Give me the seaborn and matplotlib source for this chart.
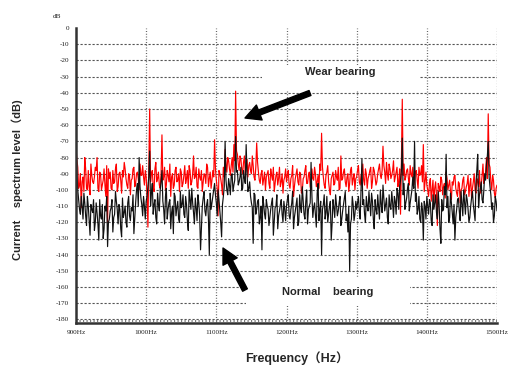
import numpy as np
import pandas as pd
import matplotlib
matplotlib.use("Agg")
import matplotlib.pyplot as plt
import matplotlib.patches as mpatches
import seaborn as sns

# Frequency bins (Hz): even bins on a 2.5 Hz grid, odd bins offset by 1.25 Hz
freq_even = np.arange(900, 1500.01, 2.5)
freq_odd = np.arange(901.25, 1500, 2.5)

# Spectrum level of the worn bearing (dB), even bins, one list per 100 Hz band
wear_900 = [-74, -86, -97, -111, -92, -80, -99, -88, -103, -91, -96, -86, -80, -101, -90, -97, -87, -104, -120, -93,
            -99, -88, -95, -84, -98, -89, -102, -92, -87, -97, -90, -103, -93, -86, -96, -89, -100, -91, -85, -97]
wear_1000 = [-92, -123, -50, -90, -98, -87, -95, -89, -99, -66, -92, -100, -88, -95, -104, -90, -97, -86, -94, -101,
             -89, -96, -85, -93, -99, -88, -95, -79, -92, -98, -87, -94, -101, -90, -96, -86, -93, -99, -88, -69]
wear_1100 = [-94, -116, -90, -97, -86, -75, -89, -82, -91, -80, -72, -39, -78, -88, -81, -90, -79, -86, -92, -83,
             -90, -85, -94, -71, -89, -96, -88, -93, -100, -90, -96, -87, -94, -101, -91, -97, -86, -95, -102, -92]
wear_1200 = [-95, -88, -99, -91, -104, -93, -87, -97, -90, -101, -92, -85, -96, -89, -100, -93, -86, -98, -91, -84,
             -65, -92, -99, -89, -95, -103, -91, -97, -88, -94, -100, -79, -93, -87, -98, -90, -96, -86, -93, -100]
wear_1300 = [-92, -85, -97, -89, -94, -87, -99, -91, -86, -95, -88, -97, -90, -84, -93, -73, -89, -83, -94, -87,
             -91, -82, -92, -86, -95, -115, -44, -84, -92, -87, -97, -90, -86, -94, -88, -99, -91, -85, -72, -95]
wear_1400 = [-97, -104, -93, -100, -108, -95, -122, -98, -92, -103, -96, -89, -100, -94, -106, -97, -91, -102, -95, -108,
             -99, -92, -101, -96, -104, -93, -99, -90, -102, -95, -88, -97, -84, -92, -80, -53, -86, -100, -94, -105, -97]

# Worn bearing, odd bins
wear_900_odd = [-81, -99, -90, -95, -101, -87, -100, -98, -84, -95, -92, -88, -99, -89, -100, -94, -97, -85, -87, -89,
                -100, -96, -87, -101, -90, -94, -88, -83, -93, -99, -91, -94, -87, -98, -90, -93, -84, -91, -92, -88]
wear_1000_odd = [-104, -86, -95, -88, -101, -83, -93, -97, -90, -94, -86, -97, -91, -84, -92, -99, -88, -95, -90, -87,
                 -98, -91, -96, -88, -85, -97, -90, -93, -86, -99, -92, -88, -95, -91, -84, -98, -89, -94, -92, -87]
wear_1100_odd = [-99, -88, -93, -103, -92, -84, -80, -87, -85, -89, -82, -76, -84, -79, -87, -83, -90, -81, -85, -88,
                 -79, -92, -86, -83, -94, -90, -97, -89, -92, -88, -99, -91, -86, -96, -89, -93, -98, -90, -94, -87]
wear_1200_odd = [-91, -97, -93, -85, -98, -90, -95, -89, -102, -93, -88, -96, -91, -98, -87, -94, -90, -95, -99, -88,
                 -86, -97, -91, -85, -100, -93, -89, -96, -92, -86, -99, -94, -89, -95, -92, -101, -88, -97, -90, -93]
wear_1300_odd = [-88, -95, -91, -84, -97, -90, -93, -88, -99, -86, -92, -95, -87, -91, -88, -85, -96, -90, -84, -93,
                 -88, -95, -89, -98, -87, -83, -91, -94, -88, -93, -85, -92, -97, -89, -94, -86, -90, -95, -101, -89]
wear_1400_odd = [-100, -96, -107, -94, -99, -103, -96, -101, -94, -98, -105, -93, -97, -101, -95, -92, -99, -104, -96, -100,
                 -94, -103, -98, -91, -97, -105, -95, -100, -93, -98, -102, -91, -96, -89, -93, -84, -95, -91, -102, -99]

# Spectrum level of the normal bearing (dB), even bins
normal_900 = [-72, -100, -112, -104, -118, -108, -122, -110, -128, -112, -106, -120, -114, -131, -116, -109, -124, -113, -135, -118,
              -111, -126, -115, -107, -121, -112, -129, -117, -110, -123, -104, -119, -113, -127, -108, -96, -80, -105, -116, -110]
normal_1000 = [-107, -98, -76, -102, -115, -106, -121, -109, -100, -88, -112, -104, -118, -108, -124, -110, -102, -116, -107, -120,
               -111, -103, -117, -109, -125, -106, -99, -114, -105, -119, -108, -137, -110, -101, -116, -106, -140, -112, -104, -96]
normal_1100 = [-108, -100, -113, -129, -104, -70, -100, -93, -103, -90, -97, -67, -88, -95, -86, -99, -93, -72, -101, -95,
               -108, -133, -103, -112, -106, -117, -137, -109, -118, -110, -122, -112, -105, -119, -110, -124, -113, -106, -120, -112]
normal_1200 = [-110, -103, -118, -108, -124, -113, -105, -120, -111, -98, -115, -107, -121, -110, -83, -117, -108, -123, -96, -112,
               -140, -109, -118, -104, -115, -107, -121, -111, -103, -116, -108, -122, -113, -105, -119, -126, -150, -118, -109, -115]
normal_1300 = [-112, -104, -118, -81, -106, -120, -110, -101, -116, -107, -124, -112, -103, -118, -109, -97, -113, -105, -121, -110,
               -101, -117, -107, -99, -112, -94, -68, -96, -108, -99, -113, -104, -92, -70, -102, -112, -118, -108, -131, -110]
normal_1400 = [-104, -115, -108, -122, -112, -103, -118, -109, -133, -113, -98, -78, -104, -117, -108, -121, -131, -112, -105, -119,
               -109, -100, -115, -106, -120, -110, -101, -114, -96, -78, -103, -95, -108, -90, -84, -70, -98, -112, -120, -104, -113]

# Normal bearing, odd bins
normal_900_odd = [-88, -106, -115, -110, -102, -116, -104, -119, -109, -114, -125, -108, -121, -106, -118, -130, -110, -104, -120, -113,
                  -106, -117, -101, -112, -109, -124, -105, -114, -120, -108, -116, -111, -103, -117, -100, -110, -98, -109, -104, -118]
normal_1000_odd = [-104, -92, -110, -96, -109, -117, -102, -113, -95, -107, -121, -99, -112, -106, -114, -127, -104, -111, -118, -101,
                   -109, -115, -104, -119, -100, -112, -108, -121, -111, -103, -116, -124, -105, -113, -109, -118, -102, -108, -100, -103]
normal_1100_odd = [-116, -106, -120, -109, -98, -94, -103, -97, -91, -101, -94, -89, -97, -92, -100, -88, -96, -90, -99, -104,
                   -111, -102, -115, -107, -121, -110, -104, -115, -106, -112, -117, -108, -128, -111, -103, -116, -109, -115, -107, -119]
normal_1200_odd = [-106, -116, -112, -101, -117, -109, -122, -103, -114, -107, -118, -100, -112, -108, -104, -111, -116, -102, -119, -107,
                   -112, -103, -114, -120, -110, -131, -106, -117, -109, -113, -104, -118, -109, -101, -115, -110, -121, -104, -119, -107]
normal_1300_odd = [-108, -113, -99, -109, -115, -104, -113, -109, -102, -118, -106, -115, -111, -100, -114, -105, -109, -117, -103, -112,
                   -108, -104, -115, -102, -98, -88, -103, -112, -105, -96, -108, -100, -99, -107, -115, -104, -120, -112, -107, -118]
normal_1400_odd = [-110, -106, -119, -103, -108, -114, -101, -124, -106, -112, -103, -111, -120, -102, -114, -109, -117, -106, -113, -101,
                   -116, -108, -103, -112, -117, -105, -109, -119, -88, -111, -99, -106, -100, -94, -79, -92, -103, -108, -116, -107]

wear_even = wear_900 + wear_1000 + wear_1100 + wear_1200 + wear_1300 + wear_1400
wear_odd = wear_900_odd + wear_1000_odd + wear_1100_odd + wear_1200_odd + wear_1300_odd + wear_1400_odd
normal_even = normal_900 + normal_1000 + normal_1100 + normal_1200 + normal_1300 + normal_1400
normal_odd = normal_900_odd + normal_1000_odd + normal_1100_odd + normal_1200_odd + normal_1300_odd + normal_1400_odd

x_ticks = [900, 1000, 1100, 1200, 1300, 1400, 1500]
x_tick_labels = [f"{v}Hz" for v in x_ticks]
y_ticks = list(range(0, -181, -10))

freq = np.concatenate([freq_even, freq_odd])
df = pd.DataFrame({
    "freq": np.concatenate([freq, freq]),
    "level": wear_even + wear_odd + normal_even + normal_odd,
    "bearing": ["Wear bearing"] * len(freq) + ["Normal bearing"] * len(freq),
}).sort_values(["bearing", "freq"], ascending=[False, True])

sns.set_style("white")
plt.rcParams["font.family"] = ["Liberation Sans", "Noto Sans CJK SC", "DejaVu Sans"]

W, H = 508, 369
fig = plt.figure(figsize=(W / 100, H / 100), dpi=100)
ax = fig.add_axes([76 / W, 1 - 322.7 / H, 421 / W, 294.7 / H])

sns.lineplot(data=df, x="freq", y="level", hue="bearing",
             hue_order=["Wear bearing", "Normal bearing"],
             palette={"Wear bearing": "#ff0000", "Normal bearing": "#111111"},
             estimator=None, sort=True, linewidth=0.85, legend=False, ax=ax, zorder=2)

ax.set_xlim(900, 1500)
ax.set_ylim(-182, 0)
ax.set_xlabel("")
ax.set_ylabel("")

# Spines: only left and bottom, heavy dark lines
for side in ["top", "right"]:
    ax.spines[side].set_visible(False)
for side in ["left", "bottom"]:
    ax.spines[side].set_linewidth(1.8)
    ax.spines[side].set_color("#333333")
ax.spines["left"].set_bounds(-182, 0)

ax.set_xticks(x_ticks)
ax.set_xticklabels(x_tick_labels, family=["Liberation Serif"], fontsize=5.2)
ax.set_xticks(np.arange(900, 1501, 20), minor=True)
ax.set_yticks(y_ticks)
ax.set_yticklabels([str(v) for v in y_ticks], family=["Liberation Serif"], fontsize=5.2)
ax.tick_params(axis="both", which="major", direction="out", length=3, width=0.8,
               color="#333333", pad=2, labelcolor="#222222")
ax.tick_params(axis="x", which="minor", direction="out", length=1.5, width=0.6, color="#555555")

# Dashed horizontal and dotted vertical grid
ax.set_axisbelow(True)
for y in y_ticks[1:]:
    ax.axhline(y, color="#555555", linewidth=0.8, linestyle=(0, (2, 1.6)), zorder=0.5)
for x in x_ticks[1:]:
    ax.axvline(x, color="#666666", linewidth=0.9, linestyle=(0, (0.8, 1.4)), zorder=0.5)
ax.axhline(-180.8, color="#777777", linewidth=1.4, linestyle=(0, (0.6, 1.2)), zorder=0.6)

fig.text(57 / W, 1 - 16 / H, "dB", family=["Liberation Serif"], fontsize=5.2,
         ha="center", va="center", color="#222222")

# White label panels that hide the grid behind the annotations
def panel(x0, y0, x1, y1):
    ax.add_patch(mpatches.Rectangle((x0 / W, 1 - y1 / H), (x1 - x0) / W, (y1 - y0) / H,
                                    transform=fig.transFigure, facecolor="white",
                                    edgecolor="none", zorder=1, clip_on=False))

panel(262, 66, 420, 90)
panel(246, 278, 410, 306)

ax.text(340 / W, 1 - 72 / H, "Wear bearing", transform=fig.transFigure,
        fontsize=8, fontweight="bold", ha="center", va="center", zorder=3)
ax.text(328 / W, 1 - 292 / H, "Normal    bearing", transform=fig.transFigure,
        fontsize=8, fontweight="bold", ha="center", va="center", zorder=3)

arrow_style = mpatches.ArrowStyle.Simple(head_length=1.1, head_width=1.15, tail_width=0.38)
for tail, tip in [((310, H - 93), (245, H - 118)), ((245, H - 290), (223, H - 248))]:
    ax.add_patch(mpatches.FancyArrowPatch(
        (tail[0] / W, tail[1] / H), (tip[0] / W, tip[1] / H),
        transform=fig.transFigure, arrowstyle=arrow_style, mutation_scale=10,
        color="black", shrinkA=0, shrinkB=0, zorder=4, clip_on=False))

fig.text(17 / W, 1 - 180 / H, "Current    spectrum level（dB)", rotation=90,
         fontsize=8, fontweight="bold", ha="center", va="center")
fig.text(297 / W, 1 - 358 / H, "Frequency（Hz）", fontsize=9, fontweight="bold",
         ha="center", va="center")

fig.savefig("out.png", dpi=100, facecolor="white")
